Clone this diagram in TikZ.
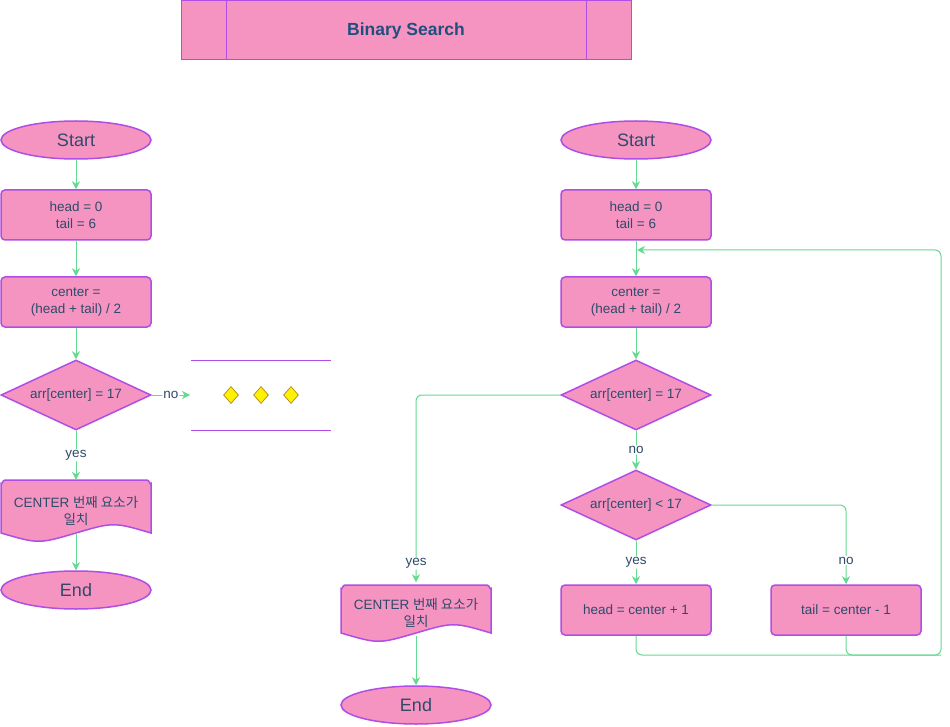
\documentclass[tikz,border=0pt]{standalone}
\usepackage{fontspec}
\setmainfont{Liberation Sans}
\newfontfamily\kr{Noto Sans CJK KR}
\usetikzlibrary{shapes.geometric,arrows.meta,calc}
\definecolor{pinkfill}{HTML}{F694C1}
\definecolor{purp}{HTML}{B04DE6}
\definecolor{grn}{HTML}{64DA90}
\definecolor{txt}{HTML}{2E4A6B}
\definecolor{ttl}{HTML}{1F4F7F}
\definecolor{ydraw}{HTML}{B0871E}
% doc shape: x0, top, x1, bottom-of-wave
\newcommand\mydocpath[4]{%
  \draw[docshape] (#1,#4) -- (#1,{#2+4}) to[out=-90,in=180] ({#1+4},#2) -- ({#3-4},#2) to[out=0,in=-90] (#3,{#2+4}) -- (#3,#4)
    .. controls ({#3-(#3-#1)/4},{#4-11}) .. ({(#1+#3)/2},#4)
    .. controls ({#1+(#3-#1)/4},{#4+11}) .. (#1,#4) -- cycle;}
\begin{document}
\begin{tikzpicture}[x=1pt,y=-1pt,
  base/.style={fill=pinkfill,draw=purp,line width=1.5pt,text=txt,font=\fontsize{13.5}{17}\selectfont,align=center,inner sep=0pt},
  term/.style={base,ellipse,minimum width=150pt,minimum height=38pt,font=\fontsize{18}{20}\selectfont},
  proc/.style={base,rectangle,rounded corners=4pt,minimum width=150pt,minimum height=50pt},
  dec/.style={base,diamond,minimum width=150pt,minimum height=70pt,aspect=2.14},
  docshape/.style={fill=pinkfill,draw=purp,line width=1.5pt},
  docn/.style={rectangle,minimum width=150pt,minimum height=53pt,inner sep=0pt},
  doctext/.style={text=txt,font=\fontsize{13.5}{17}\selectfont,align=center,inner sep=0pt},
  line/.style={draw=grn,line width=1pt,rounded corners=6pt},
  conn/.style={line,-{Stealth[length=8pt,width=8pt,inset=2.5pt]}},
  lbl/.style={fill=white,text=txt,font=\fontsize{13.5}{16}\selectfont,inner sep=1pt},
  ydia/.style={diamond,fill=yellow,draw=ydraw,line width=0.7pt,minimum width=15pt,minimum height=17pt,inner sep=0pt,aspect=0.88}
]
\fill[white] (0,0) rectangle (950,727);
\useasboundingbox (0,0) rectangle (950,727);

% title
\node[draw=purp,fill=pinkfill,line width=1pt,minimum width=450pt,minimum height=59pt,inner sep=0pt,
  text=ttl,font=\fontsize{17.5}{20}\selectfont\bfseries] (title) at (406,30.5) {Binary Search};
\draw[purp,line width=0.8pt] ($(title.north west)+(46,0)$) -- ($(title.south west)+(46,0)$);
\draw[purp,line width=0.8pt] ($(title.north east)+(-45,0)$) -- ($(title.south east)+(-45,0)$);

% left flow
\node[term] (s1) at (76,140) {Start};
\node[proc] (h1) at (76,215) {head = 0\\tail = 6};
\node[proc] (c1) at (76,302) {center =\\(head + tail) / 2};
\node[dec] (d1) at (76,395) {arr[center] = 17};
\mydocpath{1}{480}{151}{533}
\node[docn,label={[doctext,yshift=-4pt]center:CENTER {\kr 번째 요소가}\\{\kr 일치}}] (doc1) at (76,506.5) {};
\node[term] (e1) at (76,590) {End};
\coordinate (dots) at (190,395);

\draw[conn] (s1) -- (h1);
\draw[conn] (h1) -- (c1);
\draw[conn] (c1) -- (d1);
\draw[conn] (d1.south) -- node[lbl]{yes} (doc1.north);
\draw[conn] (doc1.south) -- (e1.north);
\draw[conn] (d1.east) -- node[lbl]{no} (dots);

% omitted part
\draw[purp,line width=0.8pt] (191,360) -- (331,360);
\draw[purp,line width=0.8pt] (191,430) -- (331,430);
\node[ydia] (y1) at (231,395) {};
\node[ydia] (y2) at (261,395) {};
\node[ydia] (y3) at (291,395) {};

% right flow
\node[term] (s2) at (636,140) {Start};
\node[proc] (h2) at (636,215) {head = 0\\tail = 6};
\node[proc] (c2) at (636,302) {center =\\(head + tail) / 2};
\node[dec] (d2a) at (636,395) {arr[center] = 17};
\node[dec] (d2b) at (636,505) {arr[center] < 17};
\node[proc] (hr) at (636,610) {head = center + 1};
\node[proc] (tr) at (846,610) {tail = center - 1};
\mydocpath{341}{585}{491}{633}
\node[docn,label={[doctext,yshift=-4pt]center:CENTER {\kr 번째 요소가}\\{\kr 일치}}] (doc2) at (416,609) {};
\node[term] (e2) at (416,705) {End};
\coordinate (loopin) at (637,250);
\coordinate (lb) at (941,655);

\draw[conn] (s2) -- (h2);
\draw[conn] (h2) -- (c2);
\draw[conn] (c2) -- (d2a);
\draw[conn] (d2a.south) -- node[lbl]{no} (d2b.north);
\draw[conn] (d2b.south) -- node[lbl]{yes} (hr.north);
\draw[conn] (d2b.east) -| node[lbl,pos=0.85]{no} (tr.north);
\draw[conn] (d2a.west) -| node[lbl,pos=0.95]{yes} (doc2.north);
\draw[conn] (doc2.south) -- (e2.north);
\draw[conn] (hr.south) |- (lb) |- (loopin);
\draw[line] (tr.south) |- (lb);
\end{tikzpicture}
\end{document}
